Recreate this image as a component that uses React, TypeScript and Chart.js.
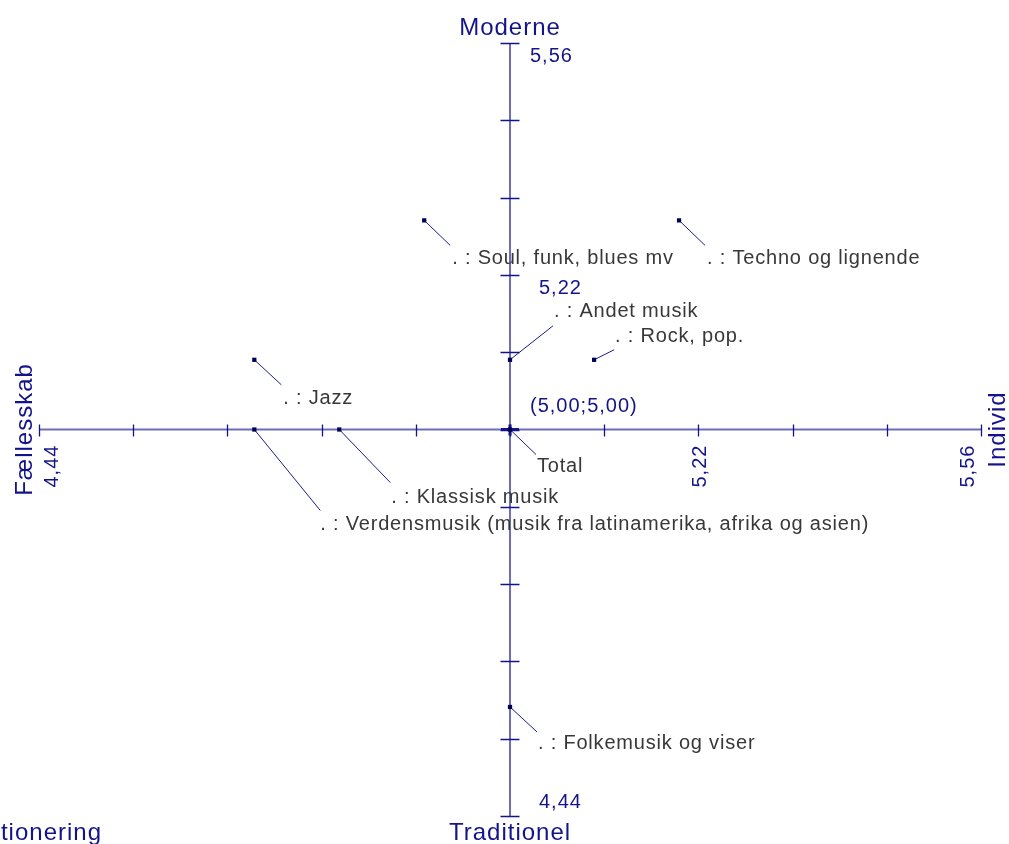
import React, { useEffect, useRef } from "react";
import { Chart, registerables } from "chart.js";

Chart.register(...registerables);

// ---- Data ----
const categories = [
  "Soul, funk, blues mv",
  "Techno og lignende",
  "Andet musik",
  "Rock, pop.",
  "Jazz",
  "Total",
  "Klassisk musik",
  "Verdensmusik (musik fra latinamerika, afrika og asien)",
  "Folkemusik og viser",
];
const xValues = [4.898, 5.201, 5.0, 5.1, 4.696, 5.0, 4.797, 4.696, 5.0];
const yValues = [5.303, 5.303, 5.101, 5.101, 5.101, 5.0, 5.0, 5.0, 4.598];

const axisMin = 4.44;
const axisMax = 5.56;
const axisCenter = 5.0;
const tickValues = [4.44, 4.552, 4.664, 4.776, 4.888, 5.0, 5.112, 5.224, 5.336, 5.448, 5.56];
const tickLabelValues = [4.44, 5.224, 5.56];
const tickLabels = ["4,44", "5,22", "5,56"];
const centerLabel = "(5,00;5,00)";
const axisTitles = { top: "Moderne", bottom: "Traditionel", left: "Fællesskab", right: "Individ" };
const cornerLabel = "Positionering";

// ---- Layout of labels (pixel offsets from each point) ----
// [lineEndDx, lineEndDy, textDx, textBaselineDy]
const labelLayout = [
  [26, 25, 28, 44],
  [26, 25, 28, 44],
  [43, -34, 44, -43],
  [20, -10, 21, -18],
  [27, 25, 29, 44],
  [26, 25, 27, 42],
  [51, 53, 52, 73],
  [66, 81, 66, 100],
  [27, 25, 28, 42],
];

const FONT = "Arial, 'Liberation Sans', sans-serif";
const NAVY = "#14148a";
const AXIS = "#6e6eb8";
const LABEL = "#383838";

const overlay = {
  id: "mapOverlay",
  beforeDatasetsDraw(chart: any) {
    const ctx = chart.ctx as CanvasRenderingContext2D;
    const xs = chart.scales.x;
    const ys = chart.scales.y;
    const cx = xs.getPixelForValue(axisCenter);
    const cy = ys.getPixelForValue(axisCenter);
    const x0 = xs.getPixelForValue(axisMin);
    const x1 = xs.getPixelForValue(axisMax);
    const y0 = ys.getPixelForValue(axisMax);
    const y1 = ys.getPixelForValue(axisMin);
    ctx.save();
    // axis lines
    ctx.strokeStyle = AXIS;
    ctx.lineWidth = 2;
    ctx.beginPath();
    ctx.moveTo(x0, cy);
    ctx.lineTo(x1, cy);
    ctx.moveTo(cx, y0);
    ctx.lineTo(cx, y1);
    ctx.stroke();
    // ticks
    ctx.strokeStyle = NAVY;
    ctx.lineWidth = 1.3;
    ctx.beginPath();
    tickValues.forEach((v) => {
      const px = Math.round(xs.getPixelForValue(v)) + 0.5;
      ctx.moveTo(px, cy - 5);
      ctx.lineTo(px, cy + 7);
      const py = Math.round(ys.getPixelForValue(v)) + 0.5;
      ctx.moveTo(cx - 9.5, py);
      ctx.lineTo(cx + 9.5, py);
    });
    ctx.stroke();
    // bold centre
    ctx.lineWidth = 3;
    ctx.beginPath();
    ctx.moveTo(cx - 9, cy);
    ctx.lineTo(cx + 9, cy);
    ctx.moveTo(cx, cy - 5);
    ctx.lineTo(cx, cy + 6);
    ctx.stroke();
    // leader lines
    ctx.strokeStyle = "#1c1c8c";
    ctx.lineWidth = 1;
    ctx.beginPath();
    categories.forEach((_, i) => {
      const px = xs.getPixelForValue(xValues[i]);
      const py = ys.getPixelForValue(yValues[i]);
      ctx.moveTo(px, py);
      ctx.lineTo(px + labelLayout[i][0], py + labelLayout[i][1]);
    });
    ctx.stroke();
    ctx.restore();
  },
  afterDatasetsDraw(chart: any) {
    const ctx = chart.ctx as CanvasRenderingContext2D;
    const xs = chart.scales.x;
    const ys = chart.scales.y;
    const cx = xs.getPixelForValue(axisCenter);
    const cy = ys.getPixelForValue(axisCenter);
    ctx.save();
    (ctx as any).letterSpacing = "0.8px";
    ctx.textBaseline = "alphabetic";
    // point labels
    ctx.fillStyle = LABEL;
    ctx.font = `20px ${FONT}`;
    ctx.textAlign = "left";
    categories.forEach((name, i) => {
      const px = xs.getPixelForValue(xValues[i]);
      const py = ys.getPixelForValue(yValues[i]);
      const text = name === "Total" ? name : ". : " + name;
      ctx.fillText(text, px + labelLayout[i][2], py + labelLayout[i][3]);
    });
    // tick labels
    (ctx as any).letterSpacing = "1px";
    ctx.fillStyle = NAVY;
    ctx.font = `20px ${FONT}`;
    ctx.fillText(centerLabel, cx + 20, cy - 18);
    tickLabelValues.forEach((v, i) => {
      const py = ys.getPixelForValue(v);
      const lx = i === 2 ? cx + 20 : cx + 29;
      const ly = i === 0 ? py - 8 : py + 19;
      ctx.textAlign = "left";
      ctx.fillText(tickLabels[i], lx, ly);
      const px = xs.getPixelForValue(v);
      const bx = i === 0 ? px + 19 : i === 1 ? px + 8 : px - 7;
      ctx.save();
      ctx.translate(bx, cy + 58);
      ctx.rotate(-Math.PI / 2);
      ctx.fillText(tickLabels[i], 0, 0);
      ctx.restore();
    });
    // axis titles
    ctx.font = `24px ${FONT}`;
    ctx.textAlign = "center";
    ctx.fillText(axisTitles.top, cx, 35);
    ctx.fillText(axisTitles.bottom, cx, 840);
    ctx.save();
    ctx.translate(32, cy);
    ctx.rotate(-Math.PI / 2);
    ctx.fillText(axisTitles.left, 0, 0);
    ctx.restore();
    ctx.save();
    ctx.translate(1005, cy);
    ctx.rotate(-Math.PI / 2);
    ctx.fillText(axisTitles.right, 0, 0);
    ctx.restore();
    ctx.textAlign = "right";
    ctx.fillText(cornerLabel, 102, 840);
    ctx.restore();
  },
};

export default function App() {
  const ref = useRef<HTMLCanvasElement | null>(null);
  useEffect(() => {
    document.body.style.margin = "0";
    const canvas = ref.current;
    if (!canvas) return;
    const chart = new Chart(canvas, {
      type: "scatter",
      data: {
        datasets: [
          {
            data: categories.map((_, i) => ({ x: xValues[i], y: yValues[i] })),
            pointStyle: "rect",
            pointRadius: 3,
            pointHoverRadius: 3,
            backgroundColor: "#000050",
            borderColor: "#000050",
            borderWidth: 0,
            clip: false as any,
          },
        ],
      },
      options: {
        animation: false,
        responsive: false,
        devicePixelRatio: 1,
        layout: { padding: { left: 39, right: 28, top: 43, bottom: 28 } },
        scales: {
          x: { type: "linear", min: axisMin, max: axisMax, display: false },
          y: { type: "linear", min: axisMin, max: axisMax, display: false },
        },
        plugins: { legend: { display: false }, tooltip: { enabled: false }, title: { display: false } },
      },
      plugins: [overlay],
    });
    return () => chart.destroy();
  }, []);
  return (
    <div style={{ position: "absolute", left: 0, top: 0, width: 1009, height: 844, background: "#fff" }}>
      <canvas ref={ref} width={1009} height={844} style={{ display: "block" }} />
    </div>
  );
}
